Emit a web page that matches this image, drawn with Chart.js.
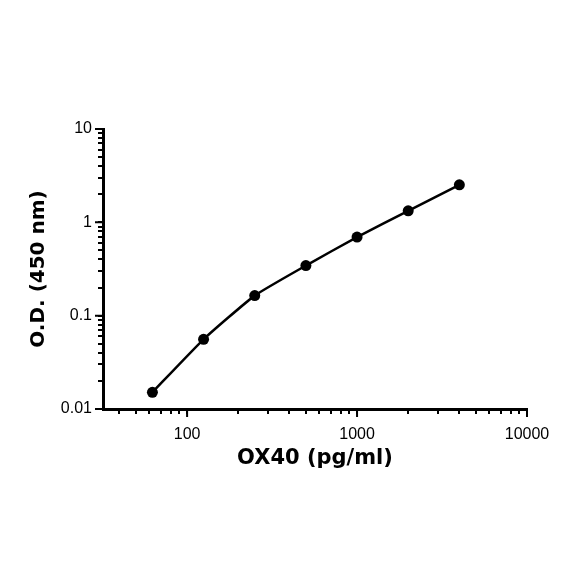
<!DOCTYPE html>
<html>
<head>
<meta charset="utf-8">
<script src="https://cdn.jsdelivr.net/npm/chart.js@4.4.1/dist/chart.umd.min.js"></script>
<style>
  html, body { margin: 0; padding: 0; background: #fff; }
</style>
</head>
<body>
<canvas id="grafico" width="584" height="584"></canvas>
<script>
// concentracao OX40 (pg/ml) e densidade optica
const concentracoes = [62.5, 125, 250, 500, 1000, 2000, 4000];
const densidades = [0.0151, 0.0558, 0.164, 0.344, 0.695, 1.33, 2.52];
const xRotulos = [100, 1000, 10000];
const yRotulos = [0.01, 0.1, 1, 10];

// ticks de 1 a 9 em cada decada, entre min e max
function ticksLog(min, max) {
  const t = [];
  for (let d = Math.floor(Math.log10(min)); d <= Math.ceil(Math.log10(max)); d++) {
    for (let m = 1; m < 10; m++) {
      const v = m * Math.pow(10, d);
      if (v >= min * 0.999 && v <= max * 1.001) t.push({ value: v });
    }
  }
  return t;
}

function rotulo(lista) {
  return function (v) {
    const r = lista.find(x => Math.abs(v / x - 1) < 1e-6);
    return r === undefined ? '' : String(r);
  };
}

// alonga um pouco os ticks das decadas
const ticksMaiores = {
  id: 'ticksMaiores',
  afterDraw(chart) {
    const c = chart.ctx;
    const sx = chart.scales.x, sy = chart.scales.y;
    c.save();
    c.strokeStyle = '#000';
    c.lineWidth = 2;
    c.beginPath();
    xRotulos.forEach(v => {
      const px = sx.getPixelForValue(v);
      c.moveTo(px, sx.top);
      c.lineTo(px, sx.top + 8);
    });
    yRotulos.forEach(v => {
      const py = sy.getPixelForValue(v);
      c.moveTo(sy.right, py);
      c.lineTo(sy.right - 8, py);
    });
    c.stroke();
    c.restore();
  }
};

const pontos = concentracoes.map((x, i) => ({ x: x, y: densidades[i] }));
const fonteTitulo = 'DejaVu Sans';
const fonteTicks = 'Liberation Sans';

const ctx = document.getElementById('grafico').getContext('2d');
new Chart(ctx, {
  type: 'scatter',
  data: {
    datasets: [{
      data: pontos,
      showLine: true,
      tension: 0.15,
      borderColor: '#000',
      borderWidth: 2.5,
      pointRadius: 5.5,
      pointBackgroundColor: '#000',
      pointBorderColor: '#000',
      pointBorderWidth: 0
    }]
  },
  options: {
    responsive: false,
    animation: false,
    layout: { padding: { left: 0, right: 57, top: 129, bottom: 105 } },
    plugins: { legend: { display: false }, tooltip: { enabled: false } },
    scales: {
      x: {
        type: 'logarithmic',
        min: 32,
        max: 10000,
        afterBuildTicks: s => { s.ticks = ticksLog(32, 10000); },
        afterFit: s => { s.height = 70; },
        ticks: {
          autoSkip: false,
          maxRotation: 0,
          padding: 11,
          color: '#000',
          font: { family: fonteTicks, size: 16 },
          callback: rotulo(xRotulos)
        },
        grid: { drawOnChartArea: false, tickLength: 5, color: '#000', lineWidth: 2 },
        border: { color: '#000', width: 3 },
        title: {
          display: true,
          text: 'OX40 (pg/ml)',
          color: '#000',
          font: { family: fonteTitulo, size: 21, weight: 'bold' },
          padding: { top: 0, bottom: 8 }
        }
      },
      y: {
        type: 'logarithmic',
        min: 0.01,
        max: 10,
        afterBuildTicks: s => { s.ticks = ticksLog(0.01, 10); },
        afterFit: s => { s.width = 103; },
        ticks: {
          autoSkip: false,
          padding: 6,
          color: '#000',
          font: { family: fonteTicks, size: 16 },
          callback: rotulo(yRotulos)
        },
        grid: { drawOnChartArea: false, tickLength: 5, color: '#000', lineWidth: 2 },
        border: { color: '#000', width: 3 },
        title: {
          display: true,
          text: 'O.D. (450 nm)',
          color: '#000',
          font: { family: fonteTitulo, size: 20, weight: 'bold' },
          padding: { top: 27, bottom: 0 }
        }
      }
    }
  },
  plugins: [ticksMaiores]
});
</script>
</body>
</html>
